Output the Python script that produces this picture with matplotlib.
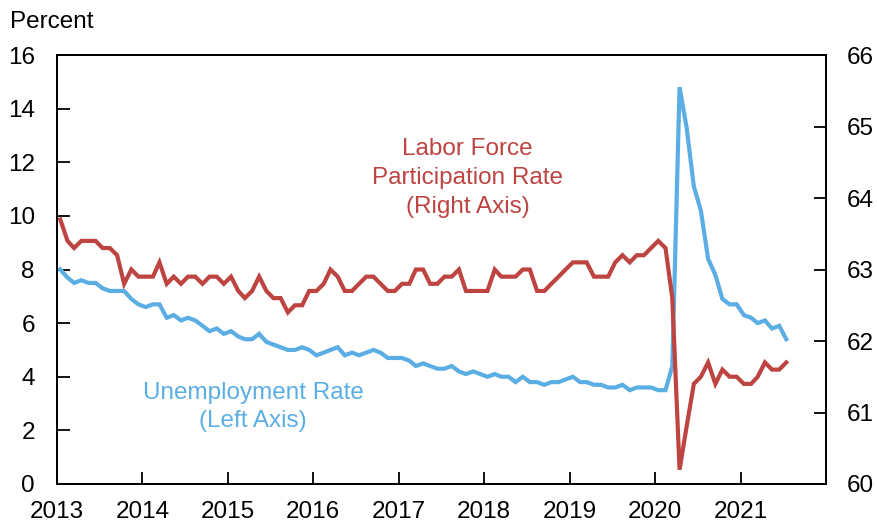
import numpy as np
import pandas as pd
import matplotlib
matplotlib.use('Agg')
import matplotlib.pyplot as plt
import matplotlib.dates as mdates
from datetime import datetime

plt.rcParams['font.family'] = ['Liberation Sans', 'DejaVu Sans']

# monthly, Jan 2013 - Jul 2021
unemp = [8.0, 7.7, 7.5, 7.6, 7.5, 7.5, 7.3, 7.2, 7.2, 7.2, 6.9, 6.7,
         6.6, 6.7, 6.7, 6.2, 6.3, 6.1, 6.2, 6.1, 5.9, 5.7, 5.8, 5.6,
         5.7, 5.5, 5.4, 5.4, 5.6, 5.3, 5.2, 5.1, 5.0, 5.0, 5.1, 5.0,
         4.8, 4.9, 5.0, 5.1, 4.8, 4.9, 4.8, 4.9, 5.0, 4.9, 4.7, 4.7,
         4.7, 4.6, 4.4, 4.5, 4.4, 4.3, 4.3, 4.4, 4.2, 4.1, 4.2, 4.1,
         4.0, 4.1, 4.0, 4.0, 3.8, 4.0, 3.8, 3.8, 3.7, 3.8, 3.8, 3.9,
         4.0, 3.8, 3.8, 3.7, 3.7, 3.6, 3.6, 3.7, 3.5, 3.6, 3.6, 3.6,
         3.5, 3.5, 4.4, 14.8, 13.3, 11.1, 10.2, 8.4, 7.8, 6.9, 6.7, 6.7,
         6.3, 6.2, 6.0, 6.1, 5.8, 5.9, 5.4]

lfpr = [63.7, 63.4, 63.3, 63.4, 63.4, 63.4, 63.3, 63.3, 63.2, 62.8, 63.0, 62.9,
        62.9, 62.9, 63.1, 62.8, 62.9, 62.8, 62.9, 62.9, 62.8, 62.9, 62.9, 62.8,
        62.9, 62.7, 62.6, 62.7, 62.9, 62.7, 62.6, 62.6, 62.4, 62.5, 62.5, 62.7,
        62.7, 62.8, 63.0, 62.9, 62.7, 62.7, 62.8, 62.9, 62.9, 62.8, 62.7, 62.7,
        62.8, 62.8, 63.0, 63.0, 62.8, 62.8, 62.9, 62.9, 63.0, 62.7, 62.7, 62.7,
        62.7, 63.0, 62.9, 62.9, 62.9, 63.0, 63.0, 62.7, 62.7, 62.8, 62.9, 63.0,
        63.1, 63.1, 63.1, 62.9, 62.9, 62.9, 63.1, 63.2, 63.1, 63.2, 63.2, 63.3,
        63.4, 63.3, 62.6, 60.2, 60.8, 61.4, 61.5, 61.7, 61.4, 61.6, 61.5, 61.5,
        61.4, 61.4, 61.5, 61.7, 61.6, 61.6, 61.7]

dates = pd.date_range('2013-01-01', periods=len(unemp), freq='MS') + pd.Timedelta(days=14)

red = '#BD4441'
blue = '#5AAEE3'
fs = 17.5

fig = plt.figure(figsize=(8.78, 5.25), dpi=100)
ax = fig.add_axes([0.0649, 0.0781, 0.8759, 0.8171])
ax2 = ax.twinx()

ax.plot(dates, unemp, color=blue, lw=3.0, solid_joinstyle='miter')
ax2.plot(dates, lfpr, color=red, lw=3.0, solid_joinstyle='miter')

ax.set_xlim(datetime(2013, 1, 1), datetime(2022, 1, 1))
ax.set_ylim(0, 16)
ax.set_yticks(np.arange(0, 17, 2))
ax2.set_ylim(60, 66)
ax2.set_yticks(np.arange(60, 67, 1))
ax.xaxis.set_major_locator(mdates.YearLocator())
ax.xaxis.set_major_formatter(mdates.DateFormatter('%Y'))
ticks = [t for t in ax.get_xticks() if t < mdates.date2num(datetime(2021, 12, 31))]
ax.set_xticks(ticks)

for a in (ax, ax2):
    for s in a.spines.values():
        s.set_linewidth(1.3)
ax.tick_params(axis='both', direction='in', length=9, width=1.3, labelsize=fs, pad=16)
ax.tick_params(axis='x', pad=12)
ax2.tick_params(axis='y', direction='in', length=9, width=1.3, labelsize=fs, pad=15)

fig.text(10 / 878, 1 - 22 / 525, 'Percent', fontsize=fs, va='center', ha='left')

ax2.text(datetime(2017, 10, 22), 64.28, 'Labor Force\nParticipation Rate\n(Right Axis)',
         color=red, fontsize=fs, ha='center', va='center', linespacing=1.4)
ax.text(datetime(2015, 4, 20), 2.87, 'Unemployment Rate\n(Left Axis)',
        color=blue, fontsize=fs, ha='center', va='center', linespacing=1.4)

fig.savefig('out.png', dpi=100)
